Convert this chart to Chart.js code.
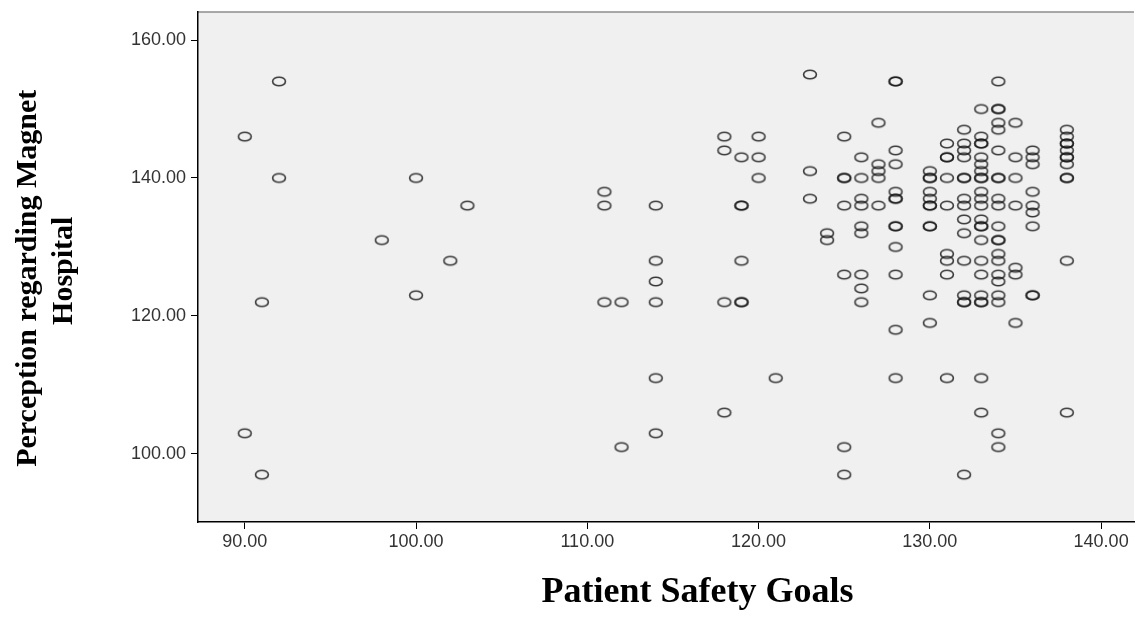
<!DOCTYPE html>
<html>
<head>
<meta charset="utf-8">
<script src="https://cdn.jsdelivr.net/npm/chart.js@4.4.1/dist/chart.umd.min.js"></script>
<style>
    html, body { margin: 0; padding: 0; background: #ffffff; }
    #wrap { width: 1140px; height: 629px; }
</style>
</head>
<body>
<div id="wrap"><canvas id="scatter" width="1140" height="629"></canvas></div>
<script>
// Patient Safety Goals score (x) and the Perception scores seen at each score (y)
const goalScores = [90, 91, 92, 98, 100, 102, 103, 111, 112, 114, 118, 119, 120, 121, 123, 124,
    125, 126, 127, 128, 130, 131, 132, 133, 134, 135, 136, 138];
const perceptionScores = [
    [146, 103],
    [122, 97],
    [154, 140],
    [131],
    [140, 123],
    [128],
    [136],
    [138, 136, 122],
    [122, 101],
    [136, 128, 125, 122, 111, 103],
    [146, 144, 122, 106],
    [143, 136, 136, 128, 122, 122],
    [146, 143, 140],
    [111],
    [155, 141, 137],
    [132, 131],
    [146, 140, 140, 136, 126, 101, 97],
    [143, 140, 137, 136, 133, 132, 126, 124, 122],
    [148, 142, 141, 140, 136],
    [154, 154, 144, 142, 138, 137, 137, 133, 133, 130, 126, 118, 111],
    [141, 140, 140, 138, 137, 136, 136, 133, 133, 123, 119],
    [145, 143, 143, 140, 136, 129, 128, 126, 111],
    [147, 145, 144, 143, 140, 140, 137, 136, 134, 132, 128, 123, 122, 122, 97],
    [150, 146, 145, 145, 143, 142, 141, 140, 140, 138, 137, 136, 134, 133, 133, 131, 128, 126, 123, 122, 122, 111, 106],
    [154, 150, 150, 148, 147, 144, 140, 140, 137, 136, 133, 131, 131, 129, 128, 126, 125, 123, 122, 103, 101],
    [148, 143, 140, 136, 127, 126, 119],
    [144, 143, 142, 138, 136, 135, 133, 123, 123],
    [147, 146, 145, 145, 144, 143, 143, 142, 140, 140, 128, 106]
];
const xTickValues = [90, 100, 110, 120, 130, 140];
const yTickValues = [100, 120, 140, 160];

const points = [];
goalScores.forEach(function (goal, i) {
    perceptionScores[i].forEach(function (p) {
        points.push({ x: goal, y: p });
    });
});

// SPSS style open marker, a little wider than tall
function makeMarker() {
    const c = document.createElement('canvas');
    c.width = 18;
    c.height = 13;
    const g = c.getContext('2d');
    g.beginPath();
    g.ellipse(9, 6.5, 6.4, 4.3, 0, 0, 2 * Math.PI);
    g.lineWidth = 1.6;
    g.strokeStyle = 'rgba(25,25,25,0.85)';
    g.stroke();
    return c;
}

const plotBackground = {
    id: 'plotBackground',
    beforeDraw: function (chart) {
        const ctx = chart.ctx;
        const a = chart.chartArea;
        ctx.save();
        ctx.fillStyle = '#f0f0f0';
        ctx.fillRect(a.left, a.top, a.right - a.left, a.bottom - a.top);
        ctx.strokeStyle = '#8c8c8c';
        ctx.lineWidth = 1.5;
        ctx.beginPath();
        ctx.moveTo(a.left, a.top);
        ctx.lineTo(a.right, a.top);
        ctx.stroke();
        ctx.restore();
    }
};

// no extra room for overhanging labels, the plot box is fixed
function noMargins(scale) {
    scale.paddingTop = 0;
    scale.paddingBottom = 0;
    scale.paddingLeft = 0;
    scale.paddingRight = 0;
}

const tickFont = { family: "'Liberation Sans', Arial, sans-serif", size: 18 };
const titleFamily = "'Liberation Serif', 'Times New Roman', serif";
const nb = '\u00a0';

new Chart(document.getElementById('scatter').getContext('2d'), {
    type: 'scatter',
    data: {
        datasets: [{
            data: points,
            pointStyle: makeMarker(),
            pointRadius: 5,
            showLine: false
        }]
    },
    options: {
        responsive: false,
        animation: false,
        layout: { padding: { top: 12, right: 2, left: 0, bottom: 0 } },
        plugins: {
            legend: { display: false },
            tooltip: { enabled: false }
        },
        scales: {
            x: {
                type: 'linear',
                min: 87.27,
                max: 141.92,
                afterBuildTicks: function (scale) {
                    scale.ticks = xTickValues.map(function (v) { return { value: v }; });
                },
                afterFit: function (scale) {
                    scale.height = 107;
                    noMargins(scale);
                },
                ticks: {
                    autoSkip: false,
                    maxRotation: 0,
                    padding: 2,
                    color: '#333333',
                    font: tickFont,
                    callback: function (v) { return Number(v).toFixed(2); }
                },
                grid: { drawOnChartArea: false, tickLength: 7, color: '#000000', lineWidth: 1 },
                border: { color: '#000000', width: 1.5 },
                title: {
                    display: true,
                    // leading spaces push the label right like the source figure
                    text: nb.repeat(7) + 'Patient Safety Goals',
                    color: '#000000',
                    font: { family: titleFamily, weight: 'bold', size: 36 },
                    padding: { top: 0, bottom: 15 }
                }
            },
            y: {
                type: 'linear',
                min: 90.14,
                max: 164.06,
                afterBuildTicks: function (scale) {
                    scale.ticks = yTickValues.map(function (v) { return { value: v }; });
                },
                afterFit: function (scale) {
                    scale.width = 198;
                    noMargins(scale);
                },
                ticks: {
                    autoSkip: false,
                    padding: 5,
                    color: '#333333',
                    font: tickFont,
                    callback: function (v) { return Number(v).toFixed(2); }
                },
                grid: { drawOnChartArea: false, tickLength: 7, color: '#000000', lineWidth: 1 },
                border: { color: '#000000', width: 1.5 },
                title: {
                    display: true,
                    text: ['Perception regarding Magnet' + nb.repeat(3), 'Hospital' + nb],
                    color: '#000000',
                    font: { family: titleFamily, weight: 'bold', size: 30 },
                    padding: { top: 10, bottom: 0 }
                }
            }
        }
    },
    plugins: [plotBackground]
});
</script>
</body>
</html>
